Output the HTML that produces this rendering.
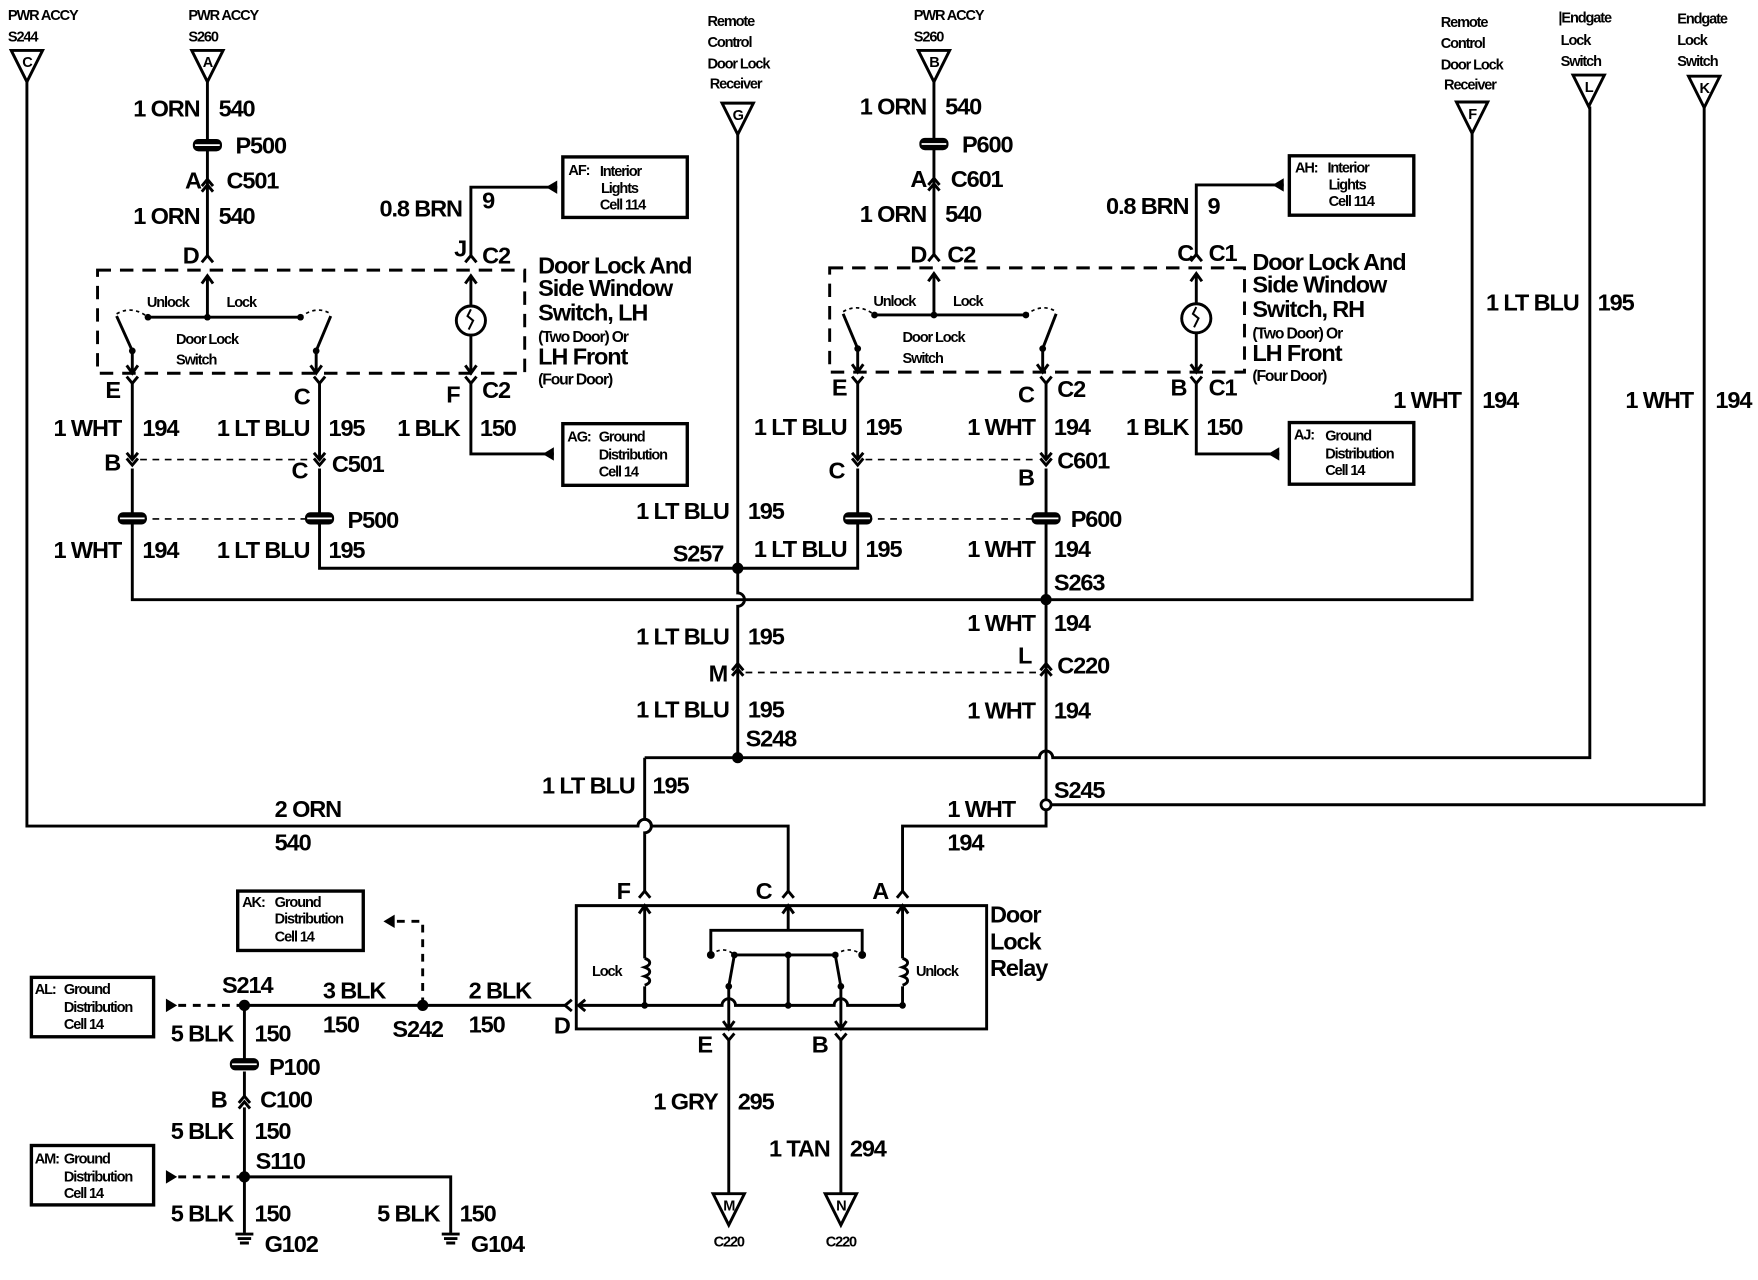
<!DOCTYPE html>
<html><head><meta charset="utf-8"><style>
html,body{margin:0;padding:0;background:#fff;}
svg{display:block}
text{font-family:"Liberation Sans",sans-serif;font-weight:bold;fill:#000;letter-spacing:-1px}
.l{font-size:21px}
.s{font-size:13px}
.t{font-size:14px}
.h{font-size:21px}
</style></head><body>
<svg width="1758" height="1280" viewBox="0 0 1568 1142" preserveAspectRatio="none" xmlns="http://www.w3.org/2000/svg">
<rect width="1568" height="1142" fill="#fff"/>
<g fill="none" stroke="#000" stroke-width="2.6">
<path d="M10 45H38L24 73Z M171 45H199L185 73Z M644 92H672L658 120Z M819 45H847L833 73Z M1299 91H1327L1313 119Z M1403 67H1431L1417 95Z M1506 68H1534L1520 96Z M636 1065H664L650 1093Z M736 1065H764L750 1093Z"/>
<path d="M24 73V737H569a6 6 0 0 1 12 0H703V797"/>
<path d="M185 73V228"/>
<path d="M87 241H468V333H87Z" stroke-dasharray="12 8"/>
<path d="M185 283V247 M180 253L185 246L190 253 M132 283H268"/>
<path d="M104 280Q118 272 132 283 M268 283Q282 272 295 280" stroke-width="1.5" stroke-dasharray="3 3"/>
<path d="M104 282L118 313V333 M113 326L118 333L123 326 M295 282L282 313V333 M277 326L282 333L287 326"/>
<path d="M420 228V167H497 M420 272V247 M415 253L420 246L425 253 M420 300V333 M415 326L420 333L425 326"/>
<circle cx="420" cy="286" r="13"/>
<path d="M420 276l-3 6l5 4l-4 8" stroke-width="1.8"/>
<path d="M118 342V410 M118 418V535H1313V119 M285 342V410 M285 418V507H658 M420 342V405H494"/>
<path d="M125 410H278 M125 463H278" stroke-dasharray="6 5" stroke-width="1.5"/>
<path d="M658 120V529a6 6 0 0 1 0 12V676 M575 676H927a6 6 0 0 1 12 0H1418V95 M575 676V731a6 6 0 0 1 0 12V797"/>
<path d="M665 600H928" stroke-dasharray="6 5" stroke-width="1.5"/>
<path d="M833 73V228"/>
<path d="M740 239H1110V332H740Z" stroke-dasharray="12 8"/>
<path d="M833 281V245 M828 251L833 244L838 251 M780 281H915"/>
<path d="M752 278Q766 270 780 281 M915 281Q929 270 942 278" stroke-width="1.5" stroke-dasharray="3 3"/>
<path d="M752 280L765 311V332 M760 325L765 332L770 325 M942 280L930 311V332 M925 325L930 332L935 325"/>
<path d="M1067 227V165H1145 M1067 270V245 M1062 251L1067 244L1072 251 M1067 298V332 M1062 325L1067 332L1072 325"/>
<circle cx="1067" cy="284" r="13"/>
<path d="M1067 274l-3 6l5 4l-4 8" stroke-width="1.8"/>
<path d="M765 342V410 M765 418V507H658 M933 342V410 M933 418V737H805V797 M1067 342V405H1141 M933 718H1520V96"/>
<path d="M772 410H925 M772 463H925" stroke-dasharray="6 5" stroke-width="1.5"/>
<path d="M514 808H880V918H514Z"/>
<path d="M575 808V855 M570 815L575 808L580 815 M575 880V897 M805 808V855 M800 815L805 808L810 815 M805 880V897 M703 808V830 M698 815L703 808L708 815"/>
<path d="M575 855c6 2 6 6 0 8c6 2 6 6 0 8c6 2 6 6 0 8 M805 855c6 2 6 6 0 8c6 2 6 6 0 8c6 2 6 6 0 8"/>
<path d="M634 852V830H769V852 M655 852H745 M703 852V897 M655 852L650 880V918 M745 852L750 880V918 M645 911L650 918L655 911 M745 911L750 918L755 911"/>
<path d="M634 852Q645 843 655 852 M745 852Q757 843 769 852" stroke-width="1.5" stroke-dasharray="3 3"/>
<path d="M516 897H644a6 6 0 0 1 12 0H744a6 6 0 0 1 12 0H805 M522 892L516 897L522 902"/>
<path d="M650 928V1065 M750 928V1065"/>
<path d="M218 897H505 M218 897V945 M218 956V980 M218 988V1100 M218 1050H402V1100"/>
<path d="M377 897V822H352 M218 897H150 M218 1050H150" stroke-dasharray="7 6"/>
<path d="M180 166L185 160L190 166 M180 171L185 165L190 171 M180 234L185 228L190 234 M415 234L420 228L425 234 M828 165L833 159L838 165 M828 170L833 164L838 170 M828 233L833 227L838 233 M1062 233L1067 227L1072 233 M570 801L575 795L580 801 M698 801L703 795L708 801 M800 801L805 795L810 801 M653 598L658 592L663 598 M653 603L658 597L663 603 M928 598L933 592L938 598 M928 603L933 597L938 603 M213 984L218 978L223 984 M213 989L218 983L223 989 M510 892L504 897L510 902"/>
<path d="M113 336L118 342L123 336 M280 336L285 342L290 336 M415 336L420 342L425 336 M760 336L765 342L770 336 M928 336L933 342L938 336 M1062 336L1067 342L1072 336 M645 922L650 928L655 922 M745 922L750 928L755 922 M113 404L118 410L123 404 M113 409L118 415L123 409 M280 404L285 410L290 404 M280 409L285 415L290 409 M760 404L765 410L770 404 M760 409L765 415L770 409 M928 404L933 410L938 404 M928 409L933 415L938 409"/>
<g stroke-width="3"><rect x="502" y="140" width="111" height="54"/><rect x="502" y="378" width="111" height="55"/><rect x="1150" y="139" width="111" height="53"/><rect x="1150" y="377" width="111" height="55"/><rect x="212" y="795" width="112" height="53"/><rect x="28" y="872" width="109" height="53"/><rect x="28" y="1022" width="109" height="53"/></g>
<path d="M210 1101H226 M212 1105H224 M214 1109H222 M394 1101H410 M396 1105H408 M398 1109H406"/>
</g>
<g fill="#000">
<path d="M497 161L487 167L497 173Z M494 399L484 405L494 411Z M1145 159L1135 165L1145 171Z M1141 399L1131 405L1141 411Z M352 816L342 822L352 828Z M148 891L158 897L148 903Z M148 1044L158 1050L148 1056Z"/>
<circle cx="658" cy="507" r="5"/><circle cx="933" cy="535" r="5"/><circle cx="658" cy="676" r="5"/><circle cx="218" cy="897" r="5"/><circle cx="377" cy="897" r="5"/><circle cx="218" cy="1050" r="5"/>
<circle cx="933" cy="718" r="4.5" fill="#fff" stroke="#000" stroke-width="2.5"/>
<circle cx="132" cy="283" r="3"/><circle cx="268" cy="283" r="3"/><circle cx="185" cy="283" r="3"/><circle cx="118" cy="313" r="3"/><circle cx="282" cy="313" r="3"/>
<circle cx="780" cy="281" r="3"/><circle cx="915" cy="281" r="3"/><circle cx="833" cy="281" r="3"/><circle cx="765" cy="311" r="3"/><circle cx="930" cy="311" r="3"/>
<circle cx="634" cy="852" r="3.5"/><circle cx="769" cy="852" r="3.5"/><circle cx="655" cy="852" r="3"/><circle cx="745" cy="852" r="3"/><circle cx="703" cy="852" r="3"/><circle cx="703" cy="897" r="3"/><circle cx="650" cy="880" r="3"/><circle cx="750" cy="880" r="3"/><circle cx="575" cy="897" r="3"/><circle cx="805" cy="897" r="3"/>
<rect x="172" y="124" width="26" height="11" rx="5"/><rect x="105" y="457" width="26" height="11" rx="5"/><rect x="272" y="457" width="26" height="11" rx="5"/><rect x="820" y="123" width="26" height="11" rx="5"/><rect x="752" y="457" width="26" height="11" rx="5"/><rect x="920" y="457" width="26" height="11" rx="5"/><rect x="205" y="944" width="26" height="11" rx="5"/>
</g>
<g stroke="#fff" stroke-width="1.5"><path d="M174 129.5H196 M107 462.5H129 M274 462.5H296 M822 128.5H844 M754 462.5H776 M922 462.5H944 M207 949.5H229"/></g>
<g class="s" text-anchor="middle"><text x="24" y="60">C</text><text x="185" y="60">A</text><text x="658" y="107">G</text><text x="833" y="60">B</text><text x="1313" y="106">F</text><text x="1417" y="82">L</text><text x="1520" y="83">K</text><text x="650" y="1080">M</text><text x="750" y="1080">N</text>
<text x="650" y="1112">C220</text><text x="750" y="1112">C220</text></g>
<g class="s">
<text x="7" y="18">PWR ACCY</text><text x="7" y="37">S244</text>
<text x="168" y="18">PWR ACCY</text><text x="168" y="37">S260</text>
<text x="815" y="18">PWR ACCY</text><text x="815" y="37">S260</text>
<text x="631" y="23">Remote</text><text x="631" y="42">Control</text><text x="631" y="61">Door Lock</text><text x="633" y="79">Receiver</text>
<text x="1285" y="24">Remote</text><text x="1285" y="43">Control</text><text x="1285" y="62">Door Lock</text><text x="1288" y="80">Receiver</text>
<text x="1390" y="20">|Endgate</text><text x="1392" y="40">Lock</text><text x="1392" y="59">Switch</text>
<text x="1496" y="21">Endgate</text><text x="1496" y="40">Lock</text><text x="1496" y="59">Switch</text>
<text x="131" y="274">Unlock</text><text x="202" y="274">Lock</text><text x="157" y="307">Door Lock</text><text x="157" y="325">Switch</text>
<text x="779" y="273">Unlock</text><text x="850" y="273">Lock</text><text x="805" y="305">Door Lock</text><text x="805" y="324">Switch</text>
<text x="528" y="871">Lock</text><text x="817" y="871">Unlock</text>
<text x="507" y="156">AF:</text><text x="535" y="157">Interior</text><text x="536" y="172">Lights</text><text x="535" y="187">Cell 114</text>
<text x="1155" y="154">AH:</text><text x="1184" y="154">Interior</text><text x="1185" y="169">Lights</text><text x="1185" y="184">Cell 114</text>
<text x="506" y="394">AG:</text><text x="534" y="394">Ground</text><text x="534" y="410">Distribution</text><text x="534" y="425">Cell 14</text>
<text x="1154" y="392">AJ:</text><text x="1182" y="393">Ground</text><text x="1182" y="409">Distribution</text><text x="1182" y="424">Cell 14</text>
<text x="216" y="809">AK:</text><text x="245" y="809">Ground</text><text x="245" y="824">Distribution</text><text x="245" y="840">Cell 14</text>
<text x="31" y="887">AL:</text><text x="57" y="887">Ground</text><text x="57" y="903">Distribution</text><text x="57" y="918">Cell 14</text>
<text x="31" y="1038">AM:</text><text x="57" y="1038">Ground</text><text x="57" y="1054">Distribution</text><text x="57" y="1069">Cell 14</text>
</g>
<g class="h">
<text x="480" y="244">Door Lock And</text><text x="480" y="264">Side Window</text><text x="480" y="286">Switch, LH</text><text x="480" y="325">LH Front</text>
<text x="1117" y="241">Door Lock And</text><text x="1117" y="261">Side Window</text><text x="1117" y="283">Switch, RH</text><text x="1117" y="322">LH Front</text>
<text x="883" y="823">Door</text><text x="883" y="847">Lock</text><text x="883" y="871">Relay</text>
</g>
<g class="t"><text x="480" y="305">(Two Door) Or</text><text x="480" y="343">(Four Door)</text><text x="1117" y="302">(Two Door) Or</text><text x="1117" y="340">(Four Door)</text></g>
<g class="l" text-anchor="end">
<text x="178" y="104">1 ORN</text><text x="178" y="200">1 ORN</text><text x="826" y="102">1 ORN</text><text x="826" y="198">1 ORN</text>
<text x="412" y="193">0.8 BRN</text><text x="1060" y="191">0.8 BRN</text>
<text x="108" y="389">1 WHT</text><text x="276" y="389">1 LT BLU</text><text x="410" y="389">1 BLK</text>
<text x="108" y="498">1 WHT</text><text x="276" y="498">1 LT BLU</text>
<text x="650" y="463">1 LT BLU</text><text x="650" y="575">1 LT BLU</text><text x="650" y="640">1 LT BLU</text><text x="566" y="708">1 LT BLU</text>
<text x="755" y="388">1 LT BLU</text><text x="923" y="388">1 WHT</text><text x="1060" y="388">1 BLK</text>
<text x="755" y="497">1 LT BLU</text><text x="923" y="497">1 WHT</text><text x="923" y="563">1 WHT</text><text x="923" y="641">1 WHT</text>
<text x="1303" y="364">1 WHT</text><text x="1408" y="277">1 LT BLU</text><text x="1510" y="364">1 WHT</text>
<text x="208" y="929">5 BLK</text><text x="208" y="1016">5 BLK</text><text x="208" y="1090">5 BLK</text><text x="392" y="1090">5 BLK</text>
<text x="640" y="990">1 GRY</text><text x="740" y="1032">1 TAN</text>
</g>
<g class="l">
<text x="195" y="104">540</text><text x="195" y="200">540</text><text x="843" y="102">540</text><text x="843" y="198">540</text>
<text x="210" y="137">P500</text><text x="165" y="168">A</text><text x="202" y="168">C501</text><text x="163" y="235">D</text><text x="405" y="229">J</text><text x="430" y="235">C2</text>
<text x="858" y="136">P600</text><text x="812" y="167">A</text><text x="848" y="167">C601</text><text x="812" y="234">D</text><text x="845" y="234">C2</text><text x="1050" y="233">C</text><text x="1078" y="233">C1</text>
<text x="430" y="186">9</text><text x="1077" y="191">9</text>
<text x="94" y="355">E</text><text x="262" y="361">C</text><text x="398" y="359">F</text><text x="430" y="355">C2</text>
<text x="742" y="353">E</text><text x="908" y="359">C</text><text x="943" y="354">C2</text><text x="1044" y="353">B</text><text x="1078" y="353">C1</text>
<text x="127" y="389">194</text><text x="293" y="389">195</text><text x="428" y="389">150</text>
<text x="772" y="388">195</text><text x="940" y="388">194</text><text x="1076" y="388">150</text>
<text x="93" y="420">B</text><text x="260" y="427">C</text><text x="296" y="421">C501</text><text x="310" y="471">P500</text>
<text x="739" y="427">C</text><text x="908" y="433">B</text><text x="943" y="418">C601</text><text x="955" y="470">P600</text>
<text x="127" y="498">194</text><text x="293" y="498">195</text><text x="667" y="463">195</text><text x="600" y="501">S257</text>
<text x="772" y="497">195</text><text x="940" y="497">194</text><text x="940" y="527">S263</text>
<text x="667" y="575">195</text><text x="940" y="563">194</text><text x="632" y="608">M</text><text x="908" y="592">L</text><text x="943" y="601">C220</text>
<text x="667" y="640">195</text><text x="940" y="641">194</text><text x="665" y="666">S248</text>
<text x="582" y="708">195</text><text x="940" y="712">S245</text>
<text x="245" y="729">2 ORN</text><text x="245" y="759">540</text><text x="845" y="729">1 WHT</text><text x="845" y="759">194</text>
<text x="1322" y="364">194</text><text x="1425" y="277">195</text><text x="1530" y="364">194</text>
<text x="550" y="802">F</text><text x="674" y="802">C</text><text x="778" y="802">A</text>
<text x="622" y="939">E</text><text x="724" y="939">B</text><text x="494" y="922">D</text>
<text x="658" y="990">295</text><text x="758" y="1032">294</text>
<text x="198" y="886">S214</text><text x="288" y="891">3 BLK</text><text x="288" y="921">150</text><text x="418" y="891">2 BLK</text><text x="418" y="921">150</text><text x="350" y="925">S242</text>
<text x="227" y="929">150</text><text x="240" y="959">P100</text><text x="188" y="988">B</text><text x="232" y="988">C100</text><text x="227" y="1016">150</text><text x="228" y="1043">S110</text>
<text x="227" y="1090">150</text><text x="410" y="1090">150</text><text x="236" y="1117">G102</text><text x="420" y="1117">G104</text>
</g>
</svg>
</body></html>
